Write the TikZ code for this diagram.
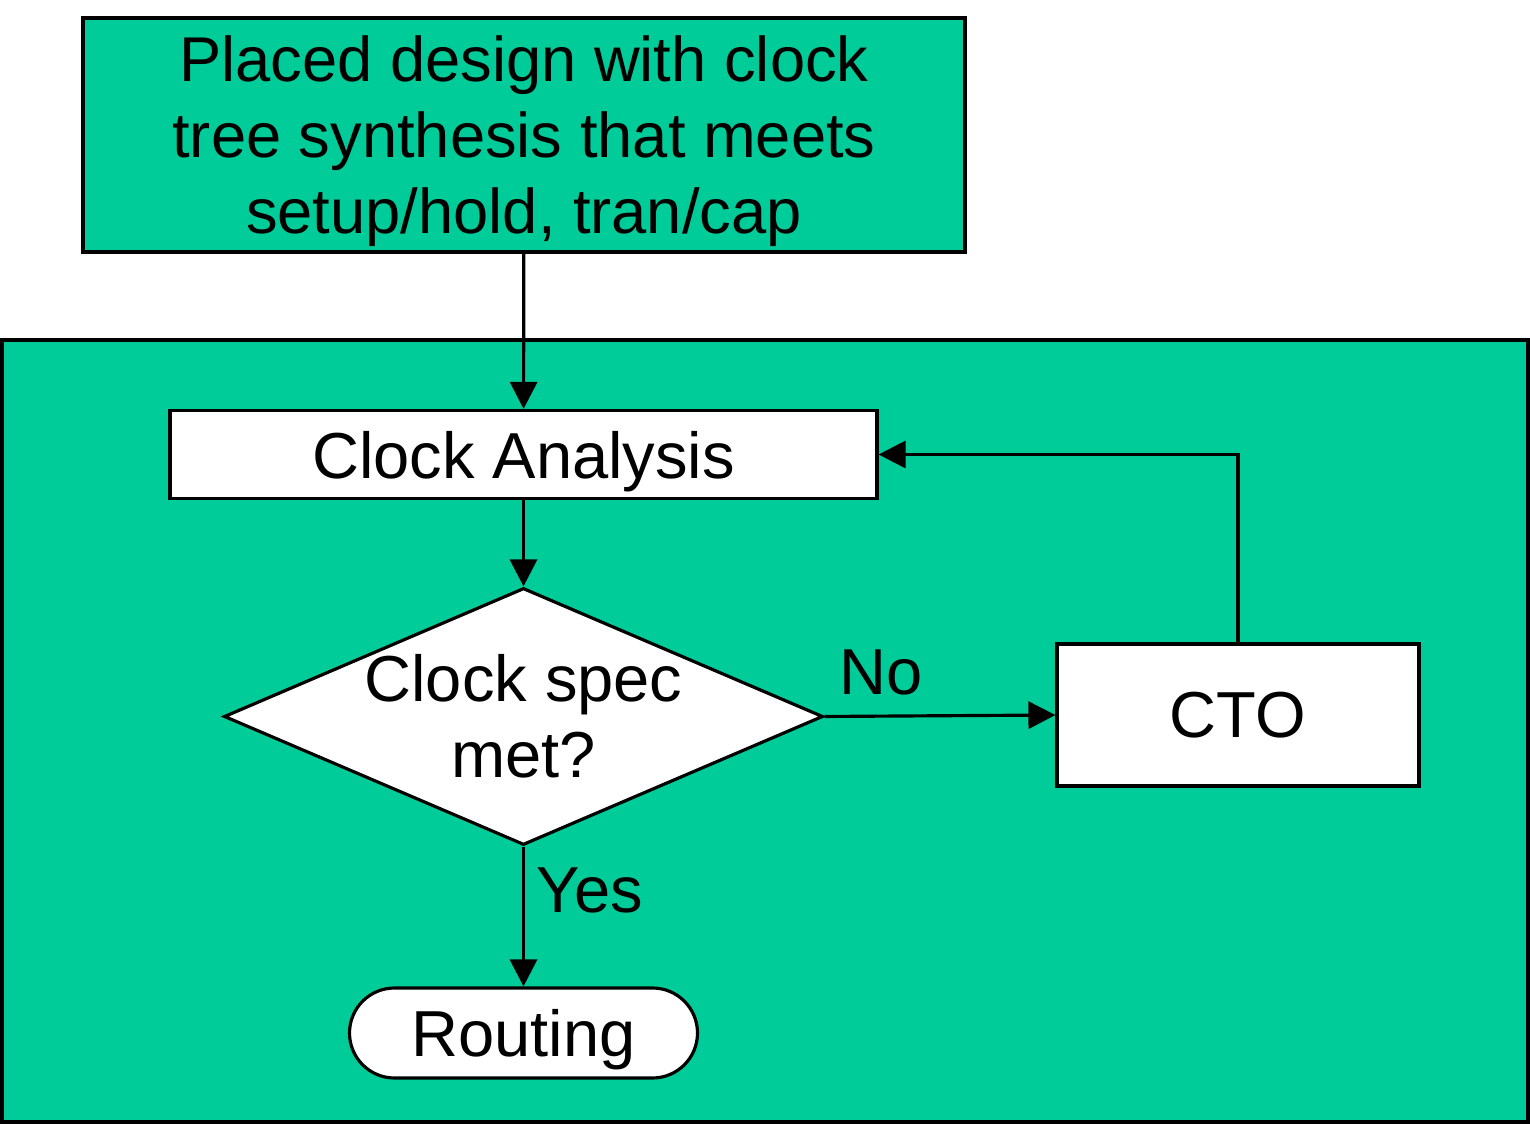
\documentclass[tikz,border=0pt]{standalone}
\usepackage{fontspec}
\setmainfont{Liberation Sans}
\usepackage{xcolor}
\usepackage{tikz}
\usetikzlibrary{arrows.meta, shapes.geometric, shapes.misc}

\definecolor{flowteal}{HTML}{00CC99}

\begin{document}
\begin{tikzpicture}[auto,
panel/.style={rectangle, draw=black, fill=flowteal, inner sep=0pt},
%
start/.style={rectangle, draw=black, fill=flowteal, align=center,
  minimum width=8.82cm, minimum height=2.34cm, text depth=0pt,
  font=\fontsize{18}{21.6}\selectfont},
%
process/.style={rectangle, draw=black, fill=white, align=center, text depth=0pt,
  font=\fontsize{18.5}{22}\selectfont},
%
decision/.style={diamond, draw=black, fill=white, align=center, inner sep=-1.5pt,
  aspect=2.33, minimum width=5.99cm, minimum height=2.57cm,
  font=\fontsize{18.5}{21.6}\selectfont},
%
terminal/.style={rounded rectangle, draw=black, fill=white, text depth=0pt,
  minimum width=3.48cm, minimum height=0.90cm, inner sep=0pt,
  font=\fontsize{18.5}{22}\selectfont},
%
answer/.style={font=\fontsize{18.5}{22}\selectfont, inner sep=0pt}]

\tikzset{every path/.style={line width=.9pt}}
\useasboundingbox (0,0) rectangle (15.3,-11.24);

\node [panel, minimum width=15.26cm, minimum height=7.82cm] (loop) at (7.65,-7.31) {};

\node [start] (placed) at (5.24,-1.35)
  {Placed design with clock\\tree synthesis that meets\\setup/hold, tran/cap};
%%%%%%%%%%%%%%%%%%%%%%%%%%%%%%
\node [process, minimum width=7.07cm, minimum height=0.88cm] (analysis) at (5.235,-4.545) {Clock Analysis};
\node [decision] (specmet) at (5.235,-7.165) {Clock spec\\met?};
\node [process, minimum width=3.62cm, minimum height=1.42cm] (cto) at (12.38,-7.15) {CTO};
\node [terminal] (routing) at (5.235,-10.33) {Routing};

\begin{scope}[>={Triangle[length=0.27cm, width=0.27cm]}]
  \draw [->] (placed) -- (analysis);
  \draw [->] (analysis) -- (specmet);
  \draw [->] (specmet.east) -- (cto.west);
  \draw [->] (cto.north) |- (analysis.east);
  \draw [->] (specmet.south) -- (routing.north);
  %%%%%%%%%%%%%%%%%%%%%%%%%%%%%%
  \node [answer] (no) at (8.81,-6.72) {No};
  \node [answer] (yes) at (5.90,-8.90) {Yes};
\end{scope}

\end{tikzpicture}
\end{document}
